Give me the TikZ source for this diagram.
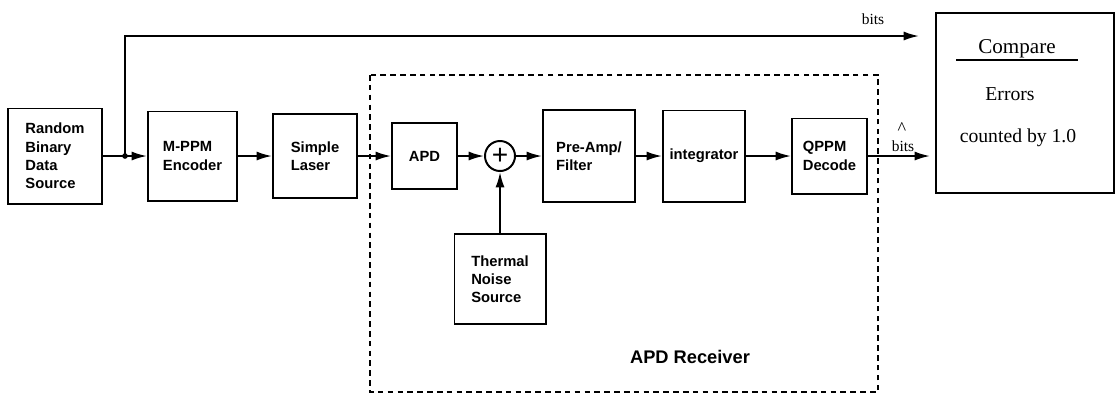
\documentclass[tikz,border=0pt]{standalone}
\usepackage{fontspec}
\setmainfont{Liberation Serif}
\newfontfamily\blockfont{Liberation Sans}
\usepackage{tikz}
\usetikzlibrary{math}
\usetikzlibrary{calc}
\usetikzlibrary{arrows.meta}

\begin{document}
\begin{tikzpicture}[x=0.025cm, y=-0.025cm,
  block/.style={draw, line width=1.4pt, align=left, inner sep=0pt,
    font=\blockfont\bfseries\fontsize{10.5}{13}\selectfont},
  sig/.style={-{Latex[length=11pt, width=6.5pt]}, line width=1.4pt}]
\tikzmath{
\yl=156;
}
\useasboundingbox (0,0) rectangle (1116,397);

% transmitter
\node[block, minimum width=2.35cm, minimum height=2.375cm] (src) at (55,\yl) {Random\\Binary\\Data\\Source};
\node[block, minimum width=2.225cm, minimum height=2.225cm] (enc) at (192.5,\yl) {M-PPM\\Encoder};
\node[block, minimum width=2.1cm, minimum height=2.1cm] (laser) at (315,\yl) {Simple\\Laser};

% receiver
\draw[line width=1.4pt, dash pattern=on 4pt off 3pt] (370,75) rectangle (878,392);
\node[block, minimum width=1.625cm, minimum height=1.65cm] (apd) at (424.5,\yl) {APD};
\node[draw, circle, line width=1.4pt, minimum size=0.75cm, inner sep=0pt, font=\blockfont\fontsize{20}{20}\selectfont] (sum) at (500,\yl) {+};
\node[block, minimum width=2.3cm, minimum height=2.3cm] (pre) at (589,\yl) {Pre-Amp/\\Filter};
\node[block, minimum width=2.05cm, minimum height=2.275cm] (int) at (704,\yl) {integrator};
\node[block, minimum width=1.875cm, minimum height=1.875cm] (dec) at (829.5,\yl) {QPPM\\Decode};
\node[block, minimum width=2.275cm, minimum height=2.25cm] (noise) at (500,279) {Thermal\\Noise\\Source};
\node[font=\blockfont\bfseries\fontsize{13}{15}\selectfont] (rxlbl) at (690,357) {APD Receiver};

% compare
\node[draw, line width=1.4pt, minimum width=4.45cm, minimum height=4.5cm] (cmp) at (1025,103) {};
\node[minimum width=3.025cm, inner sep=1pt, font=\fontsize{15}{17}\selectfont] (cmptitle) at (1017,49) {Compare};
\draw[line width=0.9pt] (cmptitle.south west) -- (cmptitle.south east);
\node[font=\fontsize{14}{16}\selectfont] (errlbl) at (1010,94) {Errors};
\node[font=\fontsize{14}{16}\selectfont] (cntlbl) at (1018,138) {counted by 1.0};

% signal path
\coordinate (split) at ($(src.east)!0.5!(enc.west)$);
\coordinate (bitsend) at (919,36);
\coordinate (outend) at (930,\yl);
\draw[sig] (src.east) -- (enc.west);
\fill (split) circle (2pt);
\draw[sig] (split) |- (bitsend);
\draw[sig] (enc.east) -- (laser.west);
\draw[sig] (laser.east) -- (apd.west);
\draw[sig] (apd.east) -- (sum.west);
\draw[sig] (sum.east) -- (pre.west);
\draw[sig] (noise.north) -- (sum.south);
\draw[sig] (pre.east) -- (int.west);
\draw[sig] (int.east) -- (dec.west);
\draw[sig] (dec.east) -- (outend);

\node[font=\fontsize{11}{13}\selectfont] (bitslbl) at (873,19) {bits};
\node[inner sep=0pt, font=\fontsize{11}{13}\selectfont] (hatbits) at (903,146) {bits};
\node[inner sep=0pt, font=\fontsize{13}{13}\selectfont] (hatmark) at (902,129) {\^{}};

\end{tikzpicture}
\end{document}
